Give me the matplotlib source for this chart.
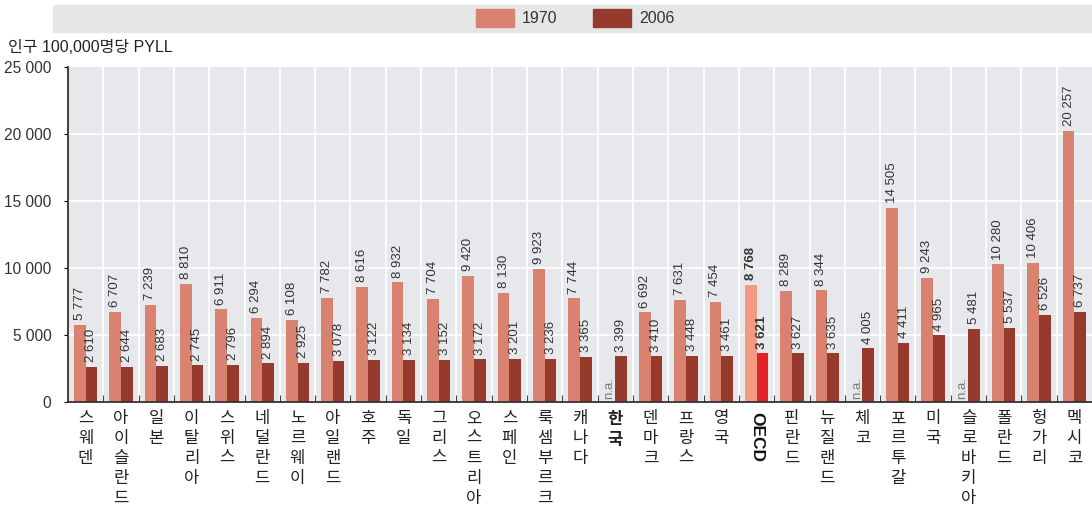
import matplotlib
matplotlib.use("Agg")
import matplotlib.pyplot as plt
from matplotlib import font_manager
from matplotlib.patches import Rectangle
import numpy as np

countries = ["스웨덴", "아이슬란드", "일본", "이탈리아", "스위스", "네덜란드", "노르웨이",
             "아일랜드", "호주", "독일", "그리스", "오스트리아", "스페인", "룩셈부르크",
             "캐나다", "한국", "덴마크", "프랑스", "영국", "OECD", "핀란드", "뉴질랜드",
             "체코", "포르투갈", "미국", "슬로바키아", "폴란드", "헝가리", "멕시코"]
pyll_1970 = [5777, 6707, 7239, 8810, 6911, 6294, 6108, 7782, 8616, 8932, 7704, 9420,
             8130, 9923, 7744, None, 6692, 7631, 7454, 8768, 8289, 8344, None, 14505,
             9243, None, 10280, 10406, 20257]
pyll_2006 = [2610, 2644, 2683, 2745, 2796, 2894, 2925, 3078, 3122, 3134, 3152, 3172,
             3201, 3236, 3365, 3399, 3410, 3448, 3461, 3621, 3627, 3635, 4005, 4411,
             4965, 5481, 5537, 6526, 6737]
y_ticks = [0, 5000, 10000, 15000, 20000, 25000]
legend_labels = ["1970", "2006"]
y_title = "인구 100,000명당 PYLL"

C70 = "#d8826f"
C06 = "#963a2d"
C70_HI = "#f39a83"
C06_HI = "#e2242a"

installed = {f.name for f in font_manager.fontManager.ttflist}
NUM_FONT = "Liberation Sans Narrow" if "Liberation Sans Narrow" in installed else "Liberation Sans"
KR_FONT = ["Noto Sans CJK KR", "DejaVu Sans"]
plt.rcParams["font.family"] = [NUM_FONT, "Noto Sans CJK KR", "DejaVu Sans"]


def fmt(v):
    return f"{v:,}".replace(",", " ")


W, H = 1092, 507
fig = plt.figure(figsize=(W / 100, H / 100), dpi=100)

# legend band
fig.patches.append(Rectangle((53 / W, 1 - 32 / H), 1 - 53 / W, 27 / H,
                             transform=fig.transFigure, color="#e5e7e6", zorder=0))
for i, (lab, col) in enumerate(zip(legend_labels, [C70, C06])):
    x0 = 476 + i * 117
    fig.patches.append(Rectangle((x0 / W, 1 - 27 / H), 38 / W, 18 / H,
                                 transform=fig.transFigure, color=col))
    fig.text((x0 + 46) / W, 1 - 18.5 / H, lab, fontsize=11.5, va="center",
             family="Liberation Sans", color="#333333")

fig.text(8 / W, 1 - 47 / H, y_title, fontsize=11.5, va="center",
         family=["Liberation Sans", "Noto Sans CJK KR"], color="#222222")

ax = fig.add_axes([68 / W, 1 - 402 / H, 1 - 68 / W, 335 / H])
n = len(countries)
x = np.arange(n)
ax.set_xlim(-0.5, n - 0.5)
ax.set_ylim(0, 25000)
ax.set_facecolor("#e6e8eb")

for b in np.arange(0.5, n - 0.5, 1):
    ax.axvline(b, color="white", lw=1.2, zorder=1)
for t in y_ticks[1:-1]:
    ax.axhline(t, color="white", lw=1.2, zorder=1)

bw = 0.33
for i in range(n):
    hi = countries[i] == "OECD"
    v70, v06 = pyll_1970[i], pyll_2006[i]
    bold = "bold" if hi else "normal"
    if v70 is not None:
        ax.bar(x[i] - bw / 2, v70, bw, color=C70_HI if hi else C70, zorder=2)
        ax.text(x[i] - bw / 2, v70 + 350, fmt(v70), rotation=90, ha="center", va="bottom",
                fontsize=9.5, color="#333333", weight=bold)
    else:
        ax.text(x[i] - bw / 2, 250, "n.a.", rotation=90, ha="center", va="bottom",
                fontsize=9.5, color="#777777")
    ax.bar(x[i] + bw / 2, v06, bw, color=C06_HI if hi else C06, zorder=2)
    ax.text(x[i] + bw / 2, v06 + 350, fmt(v06), rotation=90, ha="center", va="bottom",
            fontsize=9.5, color="#333333", weight=bold)

ax.set_yticks(y_ticks)
ax.set_yticklabels([fmt(t) for t in y_ticks], fontsize=11.2, family=NUM_FONT,
                   color="#333333")
ax.tick_params(axis="y", length=3, width=0.8, direction="out", pad=9)
ax.set_xticks(np.arange(0.5, n - 0.5, 1))
ax.set_xticklabels([])
ax.tick_params(axis="x", length=5, width=0.8, direction="in", color="#444444")

for s in ["top", "right"]:
    ax.spines[s].set_visible(False)
for s in ["left", "bottom"]:
    ax.spines[s].set_color("#333333")
    ax.spines[s].set_linewidth(1.3)

for i, name in enumerate(countries):
    if name == "OECD":
        ax.text(x[i], -0.03, name, transform=ax.get_xaxis_transform(), rotation=-90,
                ha="center", va="top", fontsize=12.5, weight="bold",
                family="Liberation Sans", color="#111111")
    else:
        bold = "bold" if name == "한국" else "normal"
        ax.text(x[i], -0.025, "\n".join(name), transform=ax.get_xaxis_transform(),
                ha="center", va="top", fontsize=12, family=KR_FONT, weight=bold,
                linespacing=1.22, color="#222222")

fig.savefig("out.png", dpi=100)
